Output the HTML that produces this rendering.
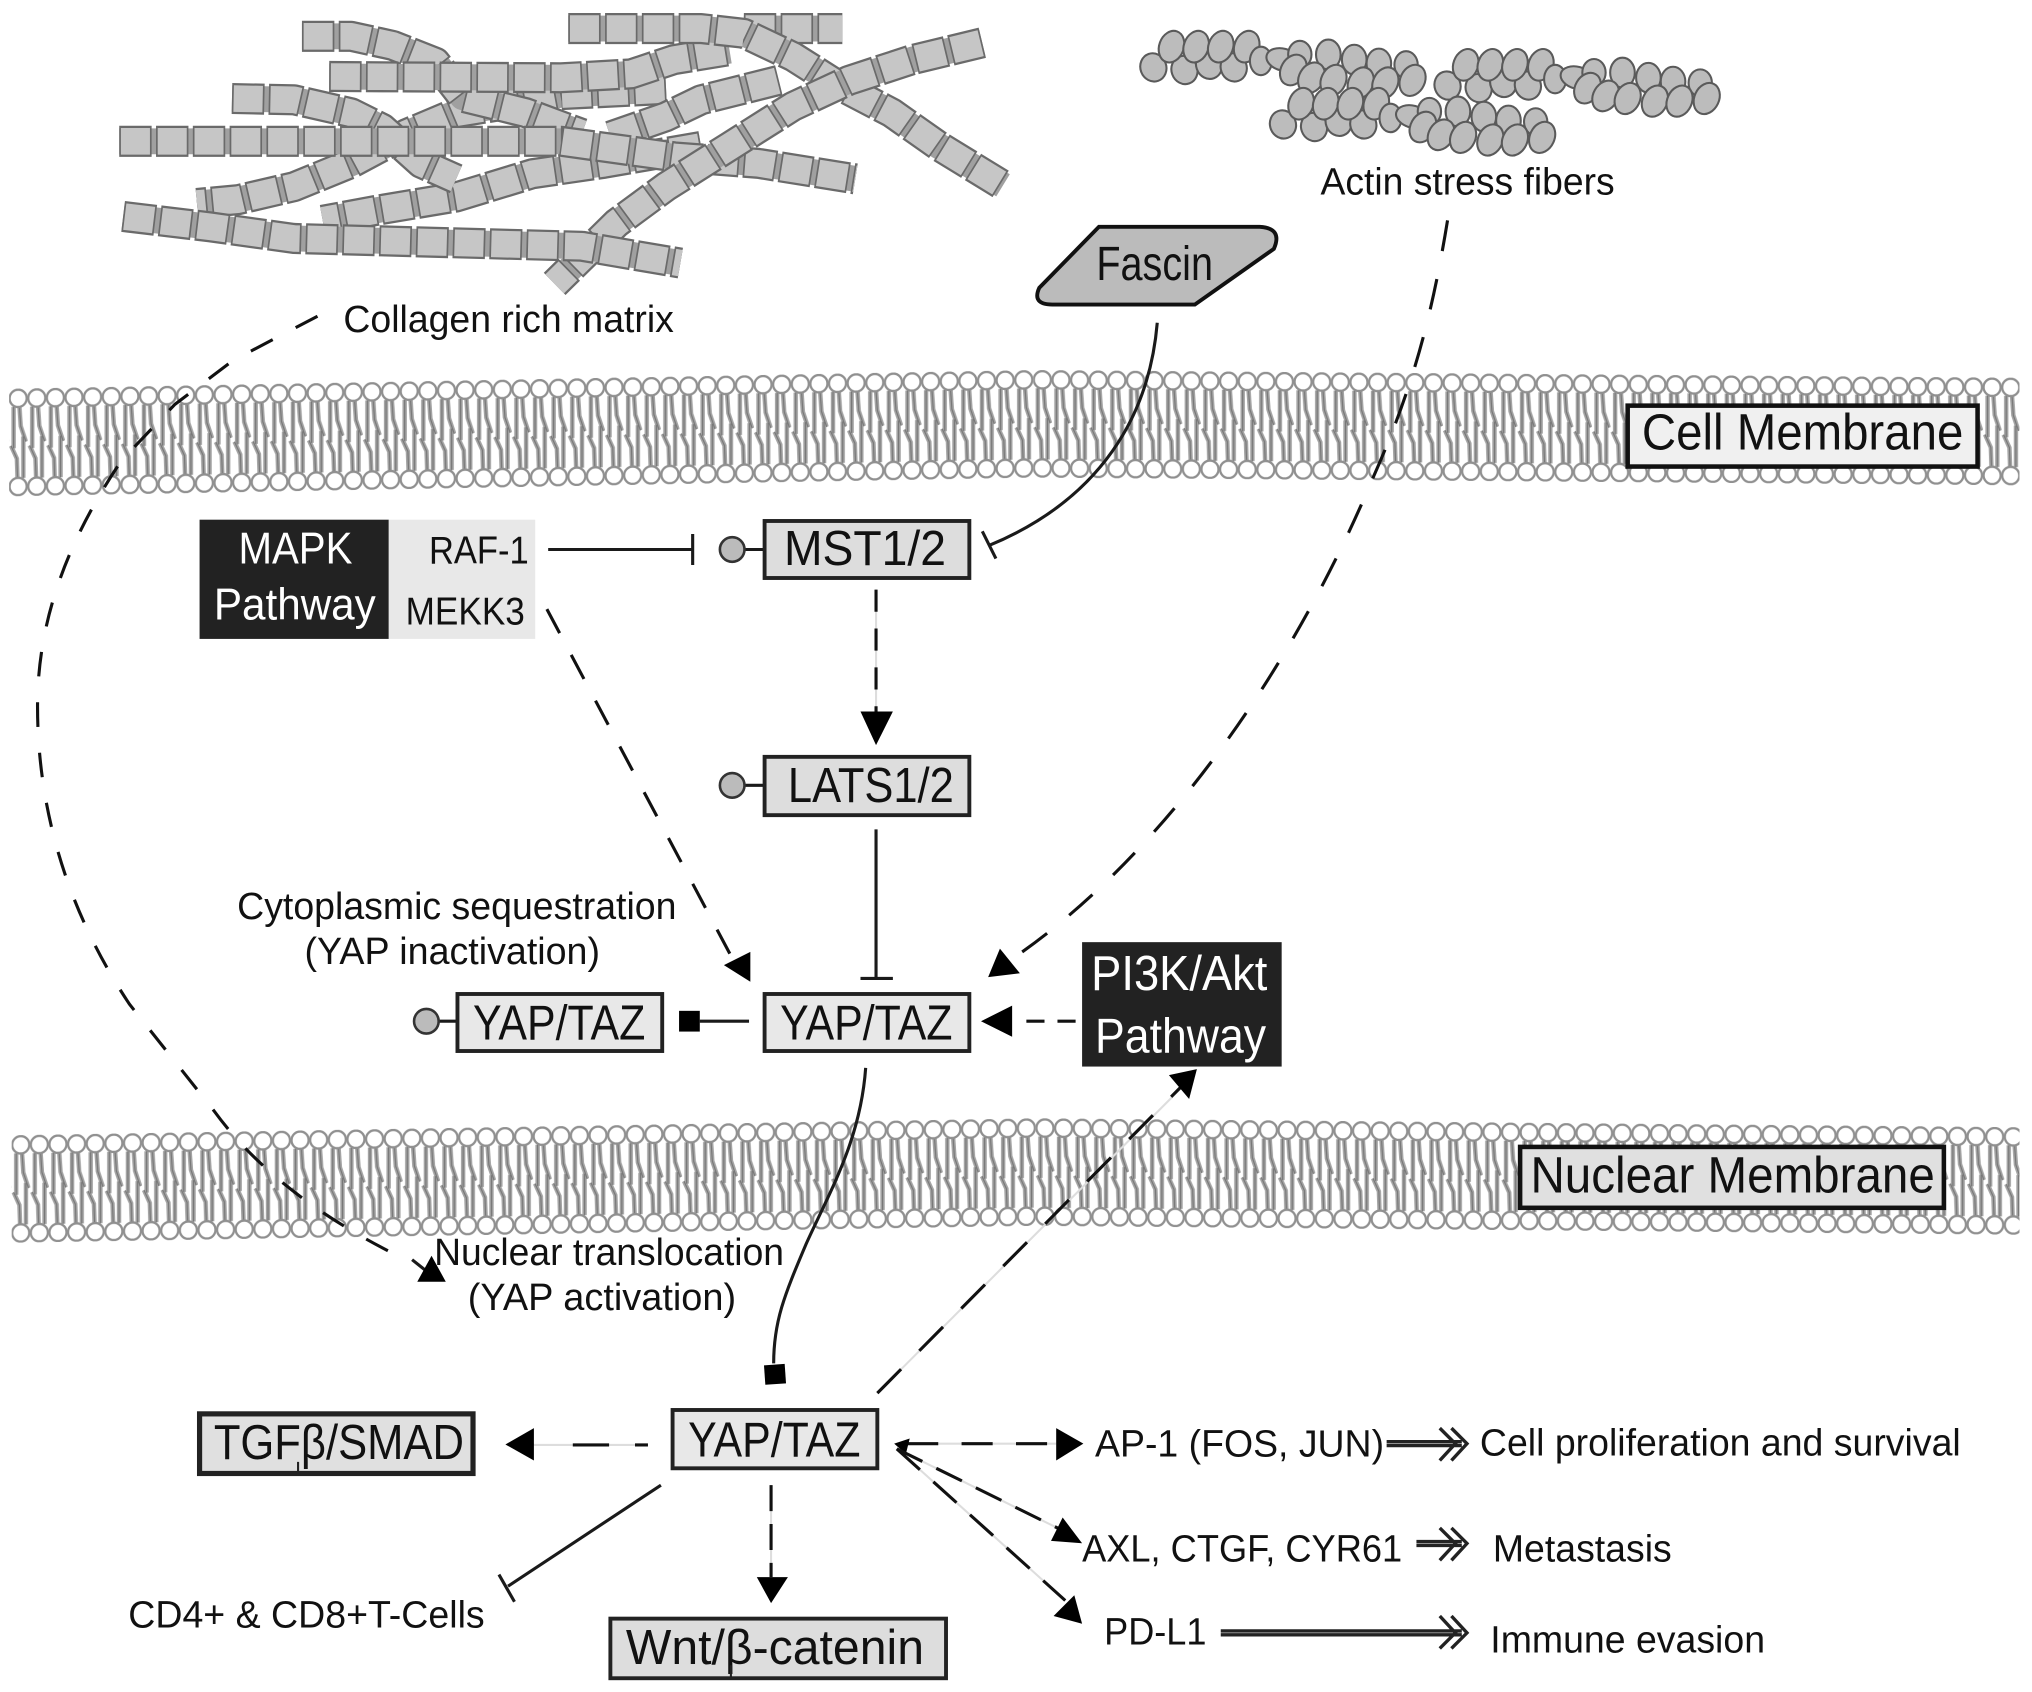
<!DOCTYPE html>
<html><head><meta charset="utf-8"><style>
html,body{margin:0;padding:0;background:#fff}
svg{display:block}
text{font-family:"Liberation Sans",sans-serif;fill:#111}
.a{fill:none;stroke:#a0a0a0;stroke-width:20;stroke-linejoin:round}
.b{fill:none;stroke:#6a6a6a;stroke-width:24;stroke-dasharray:25 3.4;stroke-linejoin:round}
.c{fill:none;stroke:#c6c6c6;stroke-width:20.5;stroke-dasharray:22.4 6;stroke-dashoffset:-1.3;stroke-linejoin:round}
.box{stroke:#222;stroke-width:3}
.d{fill:none;stroke:#111;stroke-width:2.4;stroke-dasharray:20 20}
.g{fill:none;stroke:#ddd;stroke-width:1.6}
.s{fill:none;stroke:#1a1a1a;stroke-width:2.4}
.o{fill:#bbb;stroke:#333;stroke-width:2}
.h{fill:none;stroke:#222;stroke-width:2.6}
.bn{fill:#bcbcbc;stroke:#5a5a5a;stroke-width:1.6}
</style></head><body>
<svg xmlns="http://www.w3.org/2000/svg" width="2032" height="1692" viewBox="0 0 1568 1305.6">
<defs>
<pattern id="lip" patternUnits="userSpaceOnUse" width="14.37" height="83">
<path d="M3.5 14V46M8 14L9 29L13 41M11 69V37M6.500 69L6 54L1.500 44" fill="none" stroke="#a4a4a4" stroke-width="3.4"/>
<path d="M3.5 14V46M8 14L9 29L13 41M11 69V37M6.500 69L6 54L1.500 44" fill="none" stroke="#777" stroke-width=".9"/>
<ellipse cx="7" cy="7.5" rx="6.6" ry="6.7" fill="#fff" stroke="#909090" stroke-width="1.8"/>
<ellipse cx="7" cy="75.5" rx="6.6" ry="6.7" fill="#fff" stroke="#909090" stroke-width="1.8"/>
</pattern>
<path id="f1" d="M438.500 22L541 22L574 25.700L612 43.700L644 64L688 87L725 113L774 143"/>
<path id="f1b" d="M574 22H650"/>
<path id="f2" d="M758 33L704 46L655 62L612 82L563 113L514 144L476 172L428 219"/>
<path id="f3" d="M254 59L433 60L487 57L520 46L563 39"/>
<path id="f4" d="M233 28L271 28L303 35L336 48L357 75L406 87L449 103"/>
<path id="f5" d="M514 69L433 73L395 80L352 87L314 103L271 126L227 144L184 154L152 157"/>
<path id="f6" d="M179 76L227 77L271 87L295 99L325 126L352 138"/>
<path id="f7" d="M92 109L433 109L520 121L585 126L660 138"/>
<path id="f8" d="M601 62L541 77L514 90L471 105"/>
<path id="f9" d="M541 113L466 126L411 134L352 152L292 162L249 170"/>
<path id="f10" d="M95 167L162 175L227 184L449 190L525 203"/>
<g id="actin">
<ellipse class="bn" cx="890" cy="52" rx="10" ry="11" transform="rotate(-20 890 52)"/>
<ellipse class="bn" cx="914" cy="54" rx="10" ry="11" transform="rotate(-20 914 54)"/>
<ellipse class="bn" cx="933" cy="50" rx="10" ry="11" transform="rotate(-20 933 50)"/>
<ellipse class="bn" cx="952" cy="52" rx="10" ry="11" transform="rotate(-20 952 52)"/>
<ellipse class="bn" cx="904" cy="36" rx="9.500" ry="12.500" transform="rotate(20 904 36)"/>
<ellipse class="bn" cx="923" cy="36" rx="9.500" ry="12.500" transform="rotate(20 923 36)"/>
<ellipse class="bn" cx="942" cy="36" rx="9.500" ry="12.500" transform="rotate(20 942 36)"/>
<ellipse class="bn" cx="962" cy="36" rx="9.500" ry="12.500" transform="rotate(20 962 36)"/>
<ellipse class="bn" cx="973" cy="47" rx="8.500" ry="11"/>
<ellipse class="bn" cx="990" cy="46" rx="13" ry="8.500" transform="rotate(15 990 46)"/>
<ellipse class="bn" cx="1003" cy="42" rx="9" ry="10.500"/>
<ellipse class="bn" cx="1025" cy="42" rx="9.500" ry="11.500"/>
<ellipse class="bn" cx="1045" cy="46" rx="9.500" ry="11.500"/>
<ellipse class="bn" cx="1064" cy="49" rx="9.500" ry="11.500"/>
<ellipse class="bn" cx="1085" cy="50" rx="9" ry="10.500"/>
<ellipse class="bn" cx="998" cy="54" rx="9.500" ry="12.500" transform="rotate(30 998 54)"/>
<ellipse class="bn" cx="1012" cy="60" rx="9.500" ry="12.500" transform="rotate(30 1012 60)"/>
<ellipse class="bn" cx="1029" cy="62" rx="9.500" ry="12.500" transform="rotate(25 1029 62)"/>
<ellipse class="bn" cx="1050" cy="64" rx="9.500" ry="12.500" transform="rotate(25 1050 64)"/>
<ellipse class="bn" cx="1069" cy="64" rx="9.500" ry="12.500" transform="rotate(25 1069 64)"/>
<ellipse class="bn" cx="1090" cy="62" rx="9.500" ry="12.500" transform="rotate(25 1090 62)"/>
</g>
</defs>
<rect width="1568" height="1306" fill="#fff"/>

<!-- collagen -->
<g><use href="#f9" class="a"/><use href="#f9" class="b"/><use href="#f9" class="c"/></g>
<g><use href="#f5" class="a"/><use href="#f5" class="b"/><use href="#f5" class="c"/></g>
<g><use href="#f4" class="a"/><use href="#f4" class="b"/><use href="#f4" class="c"/></g>
<g><use href="#f1b" class="a"/><use href="#f1b" class="b"/><use href="#f1b" class="c"/></g>
<g><use href="#f3" class="a"/><use href="#f3" class="b"/><use href="#f3" class="c"/></g>
<g><use href="#f6" class="a"/><use href="#f6" class="b"/><use href="#f6" class="c"/></g>
<g><use href="#f8" class="a"/><use href="#f8" class="b"/><use href="#f8" class="c"/></g>
<g><use href="#f7" class="a"/><use href="#f7" class="b"/><use href="#f7" class="c"/></g>
<g><use href="#f1" class="a"/><use href="#f1" class="b"/><use href="#f1" class="c"/></g>
<g><use href="#f2" class="a"/><use href="#f2" class="b"/><use href="#f2" class="c"/></g>
<g><use href="#f10" class="a"/><use href="#f10" class="b"/><use href="#f10" class="c"/></g>

<!-- actin -->
<use href="#actin"/>
<use href="#actin" transform="translate(227 14)"/>
<use href="#actin" transform="translate(100 44)"/>

<text x="265" y="256" font-size="29" textLength="255" lengthAdjust="spacingAndGlyphs">Collagen rich matrix</text>
<text x="1019" y="150" font-size="29" textLength="227" lengthAdjust="spacingAndGlyphs">Actin stress fibers</text>

<!-- fascin -->
<path d="M848 175H972Q990 176 983 192L922 235H812Q796 235 802 222Z" fill="#bbb" stroke="#111" stroke-width="3"/>
<text x="846" y="216" font-size="37" textLength="90" lengthAdjust="spacingAndGlyphs">Fascin</text>

<!-- membranes -->
<rect x="0" y="0" width="790.35" height="83" fill="url(#lip)" transform="translate(7 300) skewY(-1.05)"/>
<rect x="0" y="0" width="761" height="83" fill="url(#lip)" transform="translate(797.35 285.5) skewY(0.45)"/>
<rect x="0" y="0" width="790.35" height="83" fill="url(#lip)" transform="translate(9 876) skewY(-0.95)"/>
<rect x="0" y="0" width="759" height="83" fill="url(#lip)" transform="translate(799.35 862.9) skewY(0.52)"/>

<rect x="1256" y="313" width="270" height="47" fill="#f0f0f0" stroke="#111" stroke-width="3.5"/>
<text x="1267" y="347" font-size="39" textLength="248" lengthAdjust="spacingAndGlyphs">Cell Membrane</text>
<rect x="1173" y="885" width="327" height="47" fill="#e0e0e0" stroke="#111" stroke-width="3.5"/>
<text x="1181" y="920" font-size="39" textLength="312" lengthAdjust="spacingAndGlyphs">Nuclear Membrane</text>

<!-- MAPK -->
<rect x="154" y="401" width="146" height="92" fill="#222"/>
<rect x="300" y="401" width="113" height="92" fill="#e8e8e8"/>
<text x="184" y="435" font-size="34" textLength="88" lengthAdjust="spacingAndGlyphs" style="fill:#fff">MAPK</text>
<text x="165" y="478" font-size="34" textLength="125" lengthAdjust="spacingAndGlyphs" style="fill:#fff">Pathway</text>
<text x="331" y="435" font-size="30" textLength="77" lengthAdjust="spacingAndGlyphs">RAF-1</text>
<text x="313" y="482" font-size="30" textLength="92" lengthAdjust="spacingAndGlyphs">MEKK3</text>

<path class="s" d="M423 424H535M534.500 412V436"/>
<path class="s" d="M574 424H590M574 606H590M338 788H353"/>
<circle class="o" cx="565" cy="424" r="9.500"/>
<circle class="o" cx="565" cy="606" r="9.500"/>
<circle class="o" cx="329" cy="788" r="9.500"/>

<!-- boxes -->
<rect class="box" x="590" y="402" width="158" height="44" fill="#ddd"/>
<text x="605" y="436" font-size="38" textLength="125" lengthAdjust="spacingAndGlyphs">MST1/2</text>
<rect class="box" x="590" y="584" width="158" height="45" fill="#ddd"/>
<text x="608" y="619" font-size="38" textLength="128" lengthAdjust="spacingAndGlyphs">LATS1/2</text>
<rect class="box" x="353" y="767" width="158" height="44" fill="#e8e8e8"/>
<text x="365" y="802" font-size="38" textLength="133" lengthAdjust="spacingAndGlyphs">YAP/TAZ</text>
<rect class="box" x="590" y="767" width="158" height="44" fill="#e8e8e8"/>
<text x="602" y="802" font-size="38" textLength="133" lengthAdjust="spacingAndGlyphs">YAP/TAZ</text>
<rect class="box" x="519" y="1088" width="158" height="45" fill="#e8e8e8"/>
<text x="531" y="1124" font-size="38" textLength="133" lengthAdjust="spacingAndGlyphs">YAP/TAZ</text>
<rect x="154" y="1091" width="211" height="46" fill="#e0e0e0" stroke="#222" stroke-width="4"/>
<text x="165" y="1126" font-size="38" textLength="193" lengthAdjust="spacingAndGlyphs">TGFβ/SMAD</text>
<rect class="box" x="471" y="1249" width="259" height="46" fill="#ddd"/>
<text x="483" y="1284" font-size="38" textLength="230" lengthAdjust="spacingAndGlyphs">Wnt/β-catenin</text>
<path d="M230 1128V1137M564 1285V1295" stroke="#222" stroke-width="1.6"/>
<rect x="835" y="727" width="154" height="96" fill="#222"/>
<text x="842" y="764" font-size="38" textLength="136" lengthAdjust="spacingAndGlyphs" style="fill:#fff">PI3K/Akt</text>
<text x="845" y="812" font-size="38" textLength="132" lengthAdjust="spacingAndGlyphs" style="fill:#fff">Pathway</text>

<!-- fascin inhibition -->
<path class="s" d="M893 249C887 320 850 385 763 421M758 410L768.500 431"/>
<!-- MST LATS -->
<path class="g" d="M676 455V555"/>
<path class="d" d="M676 455V552" style="stroke-dasharray:17 13"/>
<path d="M664 549H689L676 575Z" fill="#000"/>
<!-- LATS -| YAP -->
<path class="s" d="M676 640V755M664 755H689"/>
<!-- MEKK3 -->
<path class="d" d="M422 470L568 745" style="stroke-dasharray:21 19"/>
<path d="M579 757.600L558.600 744.700L579 734.500Z" fill="#000"/>
<!-- actin dashed -->
<path class="d" d="M1117 170C1104 250 1088 305 1058 372C1000 510 900 660 778 742" style="stroke-dasharray:24 22"/>
<path d="M762.500 754L771.600 732L787 751Z" fill="#000"/>
<!-- collagen dashed -->
<path class="d" d="M245 244L180 278L135 312L94 355C50 420 30 480 29 540C28 620 50 700 100 775L165 857C200 905 250 940 303 967" style="stroke-dasharray:19 20"/>
<path class="s" d="M318 972L328 980"/>
<path d="M322 989L344 989L333 969Z" fill="#000"/>
<!-- YAP square -->
<rect x="524" y="780" width="16" height="16" fill="#000"/>
<path class="s" d="M540 788H578"/>
<!-- PI3K to YAP -->
<path class="d" d="M830 788H785" style="stroke-dasharray:14 10"/>
<path d="M757 788L781 776V800Z" fill="#000"/>
<!-- YAP to nucleus -->
<path class="s" d="M668 824C664 880 640 920 622 960C605 1000 597 1020 597 1052"/>
<rect x="590" y="1053" width="16" height="15" fill="#000" transform="rotate(-4 598 1060)"/>
<!-- YAP to PI3K -->
<path class="g" d="M677 1075L915 836"/>
<path class="d" d="M677 1075L912 838" style="stroke-dasharray:26 20"/>
<path d="M923.600 825L902 829.600L917.600 848Z" fill="#000"/>

<!-- bottom -->
<path class="g" d="M500 1115H412"/>
<path class="d" d="M500 1115H412" style="stroke-dasharray:10 20 28 40"/>
<path d="M390 1114.600L412 1102V1127Z" fill="#000"/>
<path class="s" d="M510 1146L392 1224M385 1215L397 1236"/>
<path class="g" d="M595 1146V1217"/>
<path class="d" d="M595 1146V1217" style="stroke-dasharray:20 10"/>
<path d="M584 1217H608L595 1237Z" fill="#000"/>

<path class="g" d="M692 1114H815"/>
<path class="d" d="M700 1114H815" style="stroke-dasharray:24 18"/>
<path d="M815 1102V1127L836 1114Z" fill="#000"/>
<path d="M690 1114L702 1110L699 1122Z" fill="#000"/>
<path class="g" d="M692 1118L822 1182"/>
<path class="d" d="M692 1118L822 1182" style="stroke-dasharray:22 12"/>
<path d="M835 1190.800L811 1189L820 1171Z" fill="#000"/>
<path class="g" d="M692 1118L822 1235"/>
<path class="d" d="M692 1118L822 1235" style="stroke-dasharray:24 14"/>
<path d="M835 1253L813 1247L829 1231Z" fill="#000"/>

<text x="845" y="1124" font-size="29" textLength="223" lengthAdjust="spacingAndGlyphs">AP-1 (FOS, JUN)</text>
<path class="h" d="M1070 1112.500H1128M1070 1115.500H1128M1111 1102L1123 1114L1111 1127M1120 1102L1132 1114L1120 1127"/>
<text x="1142" y="1123" font-size="29" textLength="371" lengthAdjust="spacingAndGlyphs">Cell proliferation and survival</text>
<text x="835" y="1205" font-size="29" textLength="247" lengthAdjust="spacingAndGlyphs">AXL, CTGF, CYR61</text>
<path class="h" d="M1093 1189.500H1128M1093 1192.500H1128M1111 1179L1123 1191L1111 1204M1120 1179L1132 1191L1120 1204"/>
<text x="1152" y="1205" font-size="29" textLength="138" lengthAdjust="spacingAndGlyphs">Metastasis</text>
<text x="852" y="1269" font-size="29" textLength="79" lengthAdjust="spacingAndGlyphs">PD-L1</text>
<path class="h" d="M942 1258.500H1128M942 1261.500H1128M1111 1247L1123 1260L1111 1272M1120 1247L1132 1260L1120 1272"/>
<text x="1150" y="1275" font-size="29" textLength="212" lengthAdjust="spacingAndGlyphs">Immune evasion</text>
<text x="99" y="1256" font-size="29" textLength="275" lengthAdjust="spacingAndGlyphs">CD4+ &amp; CD8+T-Cells</text>
<text x="183" y="709" font-size="29" textLength="339" lengthAdjust="spacingAndGlyphs">Cytoplasmic sequestration</text>
<text x="235" y="744" font-size="29" textLength="228" lengthAdjust="spacingAndGlyphs">(YAP inactivation)</text>
<text x="335" y="976" font-size="29" textLength="270" lengthAdjust="spacingAndGlyphs">Nuclear translocation</text>
<text x="361" y="1011" font-size="29" textLength="207" lengthAdjust="spacingAndGlyphs">(YAP activation)</text>
</svg>
</body></html>
